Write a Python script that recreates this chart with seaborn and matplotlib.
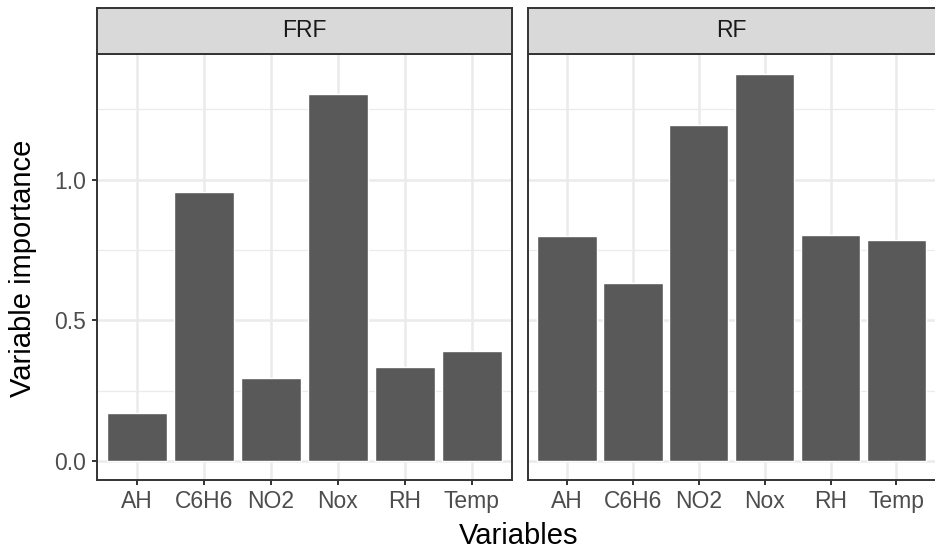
import matplotlib
matplotlib.use("Agg")
import matplotlib.pyplot as plt
import seaborn as sns
import pandas as pd
import numpy as np

# data
variables = ["AH", "C6H6", "NO2", "Nox", "RH", "Temp"]
models = ["FRF", "RF"]
frf_importance = [0.172, 0.956, 0.293, 1.305, 0.333, 0.390]
rf_importance = [0.799, 0.632, 1.195, 1.376, 0.803, 0.785]

df = pd.DataFrame({
    "Variables": variables * 2,
    "Model": ["FRF"] * len(variables) + ["RF"] * len(variables),
    "Importance": frf_importance + rf_importance,
})

sns.set_theme(style="white")
plt.rcParams["font.family"] = ["Liberation Sans", "DejaVu Sans"]

W, H = 935, 550
fig = plt.figure(figsize=(W / 100, H / 100), dpi=100)

def fx(px):
    return px / W

def fy(px):
    return 1 - px / H

panel_top, panel_bot = 54, 480
strip_top = 7.5
panels = [(97, 512), (527.5, 936)]

border = "#333333"
grid_col = "#EBEBEB"
tick_fs = 16.5
title_fs = 21

for i, (model, (x0, x1)) in enumerate(zip(models, panels)):
    ax = fig.add_axes([fx(x0), fy(panel_bot), fx(x1 - x0), fy(panel_top) - fy(panel_bot)])
    sub = df[df["Model"] == model]
    sns.barplot(data=sub, x="Variables", y="Importance", order=variables,
                color="#595959", saturation=1, width=0.9, ax=ax, zorder=3)
    ax.set_xlim(-0.6, len(variables) - 0.4)
    ax.set_ylim(-0.068, 1.447)
    ax.set_yticks([0.0, 0.5, 1.0])
    ax.set_yticks([0.25, 0.75, 1.25], minor=True)
    ax.grid(True, which="major", color=grid_col, linewidth=1.8, zorder=0)
    ax.grid(True, which="minor", axis="y", color=grid_col, linewidth=0.9, zorder=0)
    ax.set_axisbelow(True)
    for s in ax.spines.values():
        s.set_color(border)
        s.set_linewidth(1.4)
    ax.tick_params(axis="both", which="major", length=3.5, width=1.4, color=border,
                   labelsize=tick_fs, labelcolor="#4D4D4D", pad=3.5, bottom=True, left=(i == 0))
    ax.tick_params(axis="y", which="major", pad=4.5)
    ax.tick_params(axis="both", which="minor", length=0)
    ax.set_xlabel("")
    ax.set_ylabel("")
    if i == 0:
        ax.set_yticklabels(["0.0", "0.5", "1.0"])
    else:
        ax.set_yticklabels([])

    # facet strip
    sax = fig.add_axes([fx(x0), fy(panel_top), fx(x1 - x0), fy(strip_top) - fy(panel_top)])
    sax.set_facecolor("#D9D9D9")
    sax.set_xticks([])
    sax.set_yticks([])
    for s in sax.spines.values():
        s.set_color(border)
        s.set_linewidth(1.4)
    sax.text(0.5, 0.5, model, ha="center", va="center", fontsize=tick_fs,
             color="#1A1A1A", transform=sax.transAxes)

fig.text(fx(519), fy(536), "Variables", ha="center", va="center", fontsize=title_fs, color="black")
fig.text(fx(23), fy(268), "Variable importance", ha="center", va="center",
         rotation=90, fontsize=title_fs, color="black")

fig.savefig("out.png", dpi=100)
